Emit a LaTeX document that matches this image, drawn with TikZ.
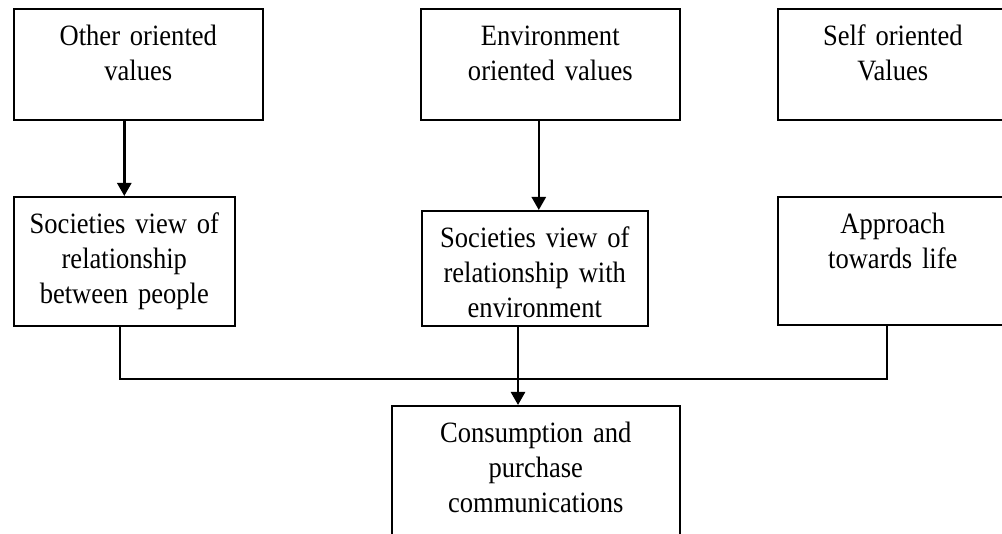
\documentclass[tikz,border=0pt]{standalone}
\usepackage{fontspec}
\setmainfont{Liberation Serif}[FakeStretch=0.9, WordSpace=0.75]
\usetikzlibrary{arrows.meta}

\begin{document}
\begin{tikzpicture}[x=1pt, y=-1pt,
  box/.style={draw, line width=1.6pt, anchor=north west, inner xsep=0pt, inner ysep=0pt, align=center, text height=37pt, font=\fontsize{29.5}{35}\selectfont},
  link/.style={line width=2.5pt, -{Triangle[length=13pt, width=14pt]}}]
  \useasboundingbox (0,0) rectangle (1002,534);
  \clip (0,0) rectangle (1002,534);

  \node (other) [box, text width=249pt, text depth=74pt] at (13,8) {Other oriented\\values};
  \node (env) [box, text width=259pt, text depth=74pt] at (420,8) {Environment\\oriented values};
  \node (self) [box, text width=230pt, text depth=74pt] at (777,8) {Self oriented\\Values};
  \node (socp) [box, text width=221pt, text depth=92pt] at (13,196) {Societies view of\\relationship\\between people};
  \node (socenv) [box, text width=226pt, text depth=78pt] at (421,210) {Societies view of\\relationship with\\environment};
  \node (approach) [box, text width=230pt, text depth=91pt] at (777,196) {Approach\\towards life};
  \node (cons) [box, text width=288pt, text depth=160pt] at (391,405) {Consumption and\\purchase\\communications};

  \coordinate (hub) at (518,379);

  \draw[link] (socp.north |- other.south) -- (socp.north);
  \draw[link] ([xshift=4pt]socenv.north |- env.south) -- ([xshift=4pt]socenv.north);
  \draw[line width=2pt] ([xshift=-4pt]socp.south) |- (hub) -| ([xshift=-6pt]approach.south);
  \draw[link] (socenv.south -| hub) -- (cons.north -| hub);
\end{tikzpicture}
\end{document}
